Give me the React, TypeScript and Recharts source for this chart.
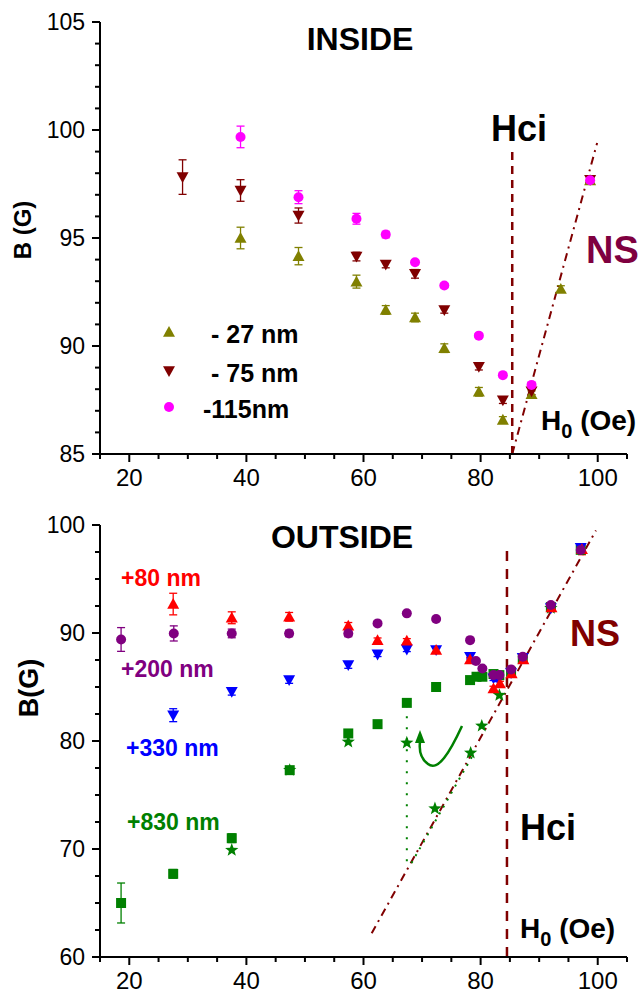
import React from "react";
import { ScatterChart, Scatter, XAxis, YAxis, ErrorBar, ReferenceLine } from "recharts";

const FONT = "Arial, 'Liberation Sans', Helvetica, sans-serif";

// INSIDE: field H0 (Oe) vs induction B (G)
const hIn27 = [39.0, 48.9, 58.8, 63.8, 68.8, 73.8, 79.7, 83.8, 88.7, 93.7, 98.7];
const bIn27 = [95.0, 94.16, 92.98, 91.67, 91.32, 89.9, 87.88, 86.58, 87.77, 92.64, 97.67];
const eIn27 = [0.5, 0.4, 0.3, 0.2, 0.2, 0.2, 0.2, 0.15, 0.15, 0.15, 0.15];

const hIn75 = [29.1, 39.0, 48.9, 58.8, 63.8, 68.8, 73.8, 79.7, 83.8, 88.7, 98.7];
const bIn75 = [97.82, 97.2, 96.04, 94.14, 93.77, 93.34, 91.67, 89.04, 87.49, 87.9, 97.7];
const eIn75 = [0.8, 0.5, 0.35, 0.2, 0.15, 0.2, 0.15, 0.15, 0.15, 0.15, 0.15];

const hIn115 = [39.0, 48.9, 58.8, 63.8, 68.8, 73.8, 79.7, 83.8, 88.7, 98.7];
const bIn115 = [99.68, 96.89, 95.89, 95.16, 93.88, 92.8, 90.48, 88.65, 88.2, 97.67];
const eIn115 = [0.5, 0.3, 0.25, 0.15, 0.1, 0.1, 0.1, 0.1, 0.1, 0.1];

// OUTSIDE
const hOut80 = [27.5, 37.5, 47.3, 57.4, 62.4, 67.4, 72.4, 78.2, 82.2, 83.3, 85.3, 87.3, 92.1, 97.3];
const bOut80 = [92.68, 91.41, 91.5, 90.67, 89.34, 89.28, 88.42, 87.55, 84.87, 85.33, 86.26, 87.55, 92.37, 97.75];
const eOut80 = [1.0, 0.55, 0.4, 0.3, 0.2, 0.2, 0.2, 0.2, 0.2, 0.2, 0.2, 0.2, 0.2, 0.5];

const hOut200 = [18.6, 27.6, 37.5, 47.3, 57.4, 62.4, 67.4, 72.4, 78.2, 79.2, 80.3, 82.2, 83.2, 85.2, 87.2, 92.0, 97.1];
const bOut200 = [89.4, 89.96, 89.96, 89.96, 89.96, 90.89, 91.82, 91.29, 89.34, 87.4, 86.72, 86.1, 86.1, 86.63, 87.8, 92.59, 97.68];
const eOut200 = [1.1, 0.7, 0.4, 0.3, 0.3, 0.15, 0.15, 0.15, 0.15, 0.15, 0.15, 0.15, 0.15, 0.15, 0.15, 0.15, 0.2];

const hOut330 = [27.5, 37.5, 47.3, 57.4, 62.4, 67.4, 72.4, 78.2, 82.2, 83.0, 85.2, 87.2, 92.0, 97.1];
const bOut330 = [82.39, 84.55, 85.64, 87.03, 88.02, 88.48, 88.42, 87.8, 85.8, 85.7, 86.3, 87.7, 92.3, 97.9];
const eOut330 = [0.6, 0.3, 0.3, 0.3, 0.2, 0.2, 0.2, 0.2, 0.2, 0.2, 0.2, 0.2, 0.2, 0.2];

const hOut830 = [18.6, 27.5, 37.5, 47.4, 57.4, 62.4, 67.4, 72.4, 78.2, 79.3, 80.3, 82.2, 83.2, 85.2, 87.2, 92.0, 97.1];
const bOut830 = [65.0, 67.7, 71.0, 77.3, 80.7, 81.56, 83.53, 85.0, 85.64, 85.95, 85.95, 86.2, 86.1, 86.4, 87.6, 92.4, 97.7];
const eOut830 = [1.85, 0.4, 0.4, 0.3, 0.2, 0.15, 0.15, 0.15, 0.15, 0.15, 0.15, 0.15, 0.15, 0.15, 0.15, 0.15, 0.15];

const hOut830s = [37.5, 47.4, 57.4, 67.4, 72.2, 78.3, 80.2, 83.2, 92.0];
const bOut830s = [69.9, 77.3, 79.92, 79.83, 73.74, 78.9, 81.4, 84.24, 92.3];

const xTicks = [15, 20, 25, 30, 35, 40, 45, 50, 55, 60, 65, 70, 75, 80, 85, 90, 95, 100, 105];
const yTicksIn = [85, 86, 87, 88, 89, 90, 91, 92, 93, 94, 95, 96, 97, 98, 99, 100, 101, 102, 103, 104, 105];
const yTicksOut = [60, 62.5, 65, 67.5, 70, 72.5, 75, 77.5, 80, 82.5, 85, 87.5, 90, 92.5, 95, 97.5, 100];

const OLIVE = "#808000";
const DARKRED = "#800000";
const MAGENTA = "#ff00ff";
const RED = "#ff0000";
const PURPLE = "#800080";
const BLUE = "#0000ff";
const GREEN = "#008000";

const pts = (xs: number[], ys: number[], es?: number[]) =>
  xs.map((x, i) => ({ x, y: ys[i], err: es ? es[i] : 0 }));

type Kind = "up" | "down" | "circle" | "square" | "star";

function symbolPath(kind: Kind, cx: number, cy: number, s: number) {
  if (kind === "up") return `M${cx},${cy - s}L${cx + s},${cy + s * 0.8}L${cx - s},${cy + s * 0.8}Z`;
  if (kind === "down") return `M${cx},${cy + s}L${cx + s},${cy - s * 0.8}L${cx - s},${cy - s * 0.8}Z`;
  if (kind === "square") return `M${cx - s},${cy - s}h${2 * s}v${2 * s}h${-2 * s}Z`;
  // five-point star
  let d = "";
  for (let i = 0; i < 10; i++) {
    const r = i % 2 === 0 ? s : s * 0.42;
    const a = -Math.PI / 2 + (i * Math.PI) / 5;
    d += `${i === 0 ? "M" : "L"}${cx + r * Math.cos(a)},${cy + r * Math.sin(a)}`;
  }
  return d + "Z";
}

const marker = (kind: Kind, color: string, s: number) => (p: any) => {
  const { cx, cy } = p;
  if (cx == null || cy == null) return <g />;
  if (kind === "circle") return <circle cx={cx} cy={cy} r={s} fill={color} />;
  return <path d={symbolPath(kind, cx, cy, s)} fill={color} />;
};

function XTick({ x, y, payload }: any) {
  const v = payload.value;
  const major = v % 20 === 0;
  return (
    <g>
      <line x1={x} y1={y} x2={x} y2={y + (major ? 8 : 5)} stroke="#000" strokeWidth={2} />
      {major && (
        <text x={x} y={y + 32} textAnchor="middle" fontSize={24} fontFamily={FONT} fill="#000">
          {v}
        </text>
      )}
    </g>
  );
}

const yTick = (majorStep: number) => ({ x, y, payload }: any) => {
  const v = payload.value;
  const major = v % majorStep === 0;
  return (
    <g>
      <line x1={x - (major ? 8 : 5)} y1={y} x2={x} y2={y} stroke="#000" strokeWidth={2} />
      {major && (
        <text x={x - 15} y={y + 8} textAnchor="end" fontSize={23} fontFamily={FONT} fill="#000">
          {v}
        </text>
      )}
    </g>
  );
};

const axisLine = { stroke: "#000", strokeWidth: 2 };

function InsideChart() {
  return (
    <ScatterChart width={644} height={500} margin={{ top: 22, right: 17, bottom: 0, left: 0 }}>
      <XAxis
        type="number"
        dataKey="x"
        domain={[15, 105]}
        ticks={xTicks}
        interval={0}
        tickSize={0}
        tickMargin={0}
        tickLine={false}
        axisLine={axisLine}
        tick={<XTick />}
        height={46}
        allowDataOverflow
      />
      <YAxis
        type="number"
        dataKey="y"
        domain={[85, 105]}
        ticks={yTicksIn}
        interval={0}
        tickSize={0}
        tickMargin={0}
        tickLine={false}
        axisLine={axisLine}
        tick={yTick(5)}
        width={100}
        allowDataOverflow
      />
      <ReferenceLine
        segment={[{ x: 85.4, y: 85 }, { x: 85.4, y: 99 }]}
        stroke={DARKRED}
        strokeWidth={2.5}
        strokeDasharray="8 6"
        ifOverflow="visible"
      />
      <ReferenceLine
        segment={[{ x: 85.4, y: 85 }, { x: 99.9, y: 99.4 }]}
        stroke={DARKRED}
        strokeWidth={2}
        strokeDasharray="8 5 2 5"
        ifOverflow="visible"
      />
      <Scatter data={pts(hIn27, bIn27, eIn27)} shape={marker("up", OLIVE, 6)} isAnimationActive={false}>
        <ErrorBar dataKey="err" direction="y" width={4} stroke={OLIVE} strokeWidth={1.3} />
      </Scatter>
      <Scatter data={pts(hIn75, bIn75, eIn75)} shape={marker("down", DARKRED, 6)} isAnimationActive={false}>
        <ErrorBar dataKey="err" direction="y" width={4} stroke={DARKRED} strokeWidth={1.3} />
      </Scatter>
      <Scatter data={pts(hIn115, bIn115, eIn115)} shape={marker("circle", MAGENTA, 5)} isAnimationActive={false}>
        <ErrorBar dataKey="err" direction="y" width={4} stroke={MAGENTA} strokeWidth={1.3} />
      </Scatter>
    </ScatterChart>
  );
}

function OutsideChart() {
  return (
    <ScatterChart width={644} height={495} margin={{ top: 25, right: 17, bottom: 0, left: 0 }}>
      <XAxis
        type="number"
        dataKey="x"
        domain={[15, 105]}
        ticks={xTicks}
        interval={0}
        tickSize={0}
        tickMargin={0}
        tickLine={false}
        axisLine={axisLine}
        tick={<XTick />}
        height={38}
        allowDataOverflow
      />
      <YAxis
        type="number"
        dataKey="y"
        domain={[60, 100]}
        ticks={yTicksOut}
        interval={0}
        tickSize={0}
        tickMargin={0}
        tickLine={false}
        axisLine={axisLine}
        tick={yTick(10)}
        width={100}
        allowDataOverflow
      />
      <ReferenceLine
        segment={[{ x: 84.5, y: 60 }, { x: 84.5, y: 98.1 }]}
        stroke={DARKRED}
        strokeWidth={2.5}
        strokeDasharray="10 8"
        ifOverflow="visible"
      />
      <ReferenceLine
        segment={[{ x: 61.4, y: 62.2 }, { x: 99.7, y: 99.5 }]}
        stroke={DARKRED}
        strokeWidth={2}
        strokeDasharray="8 5 2 5"
        ifOverflow="visible"
      />
      <ReferenceLine
        segment={[{ x: 67.4, y: 83.3 }, { x: 67.4, y: 68.7 }]}
        stroke={GREEN}
        strokeWidth={2}
        strokeDasharray="2 9"
        ifOverflow="visible"
      />
      <ReferenceLine
        segment={[{ x: 68.2, y: 68.7 }, { x: 79, y: 79 }]}
        stroke={GREEN}
        strokeWidth={2}
        strokeDasharray="2 6"
        ifOverflow="visible"
      />
      <Scatter data={pts(hOut830, bOut830, eOut830)} shape={marker("square", GREEN, 5)} isAnimationActive={false}>
        <ErrorBar dataKey="err" direction="y" width={4} stroke={GREEN} strokeWidth={1.3} />
      </Scatter>
      <Scatter data={pts(hOut830s, bOut830s)} shape={marker("star", GREEN, 7)} isAnimationActive={false} />
      <Scatter data={pts(hOut330, bOut330, eOut330)} shape={marker("down", BLUE, 6)} isAnimationActive={false}>
        <ErrorBar dataKey="err" direction="y" width={4} stroke={BLUE} strokeWidth={1.3} />
      </Scatter>
      <Scatter data={pts(hOut80, bOut80, eOut80)} shape={marker("up", RED, 6)} isAnimationActive={false}>
        <ErrorBar dataKey="err" direction="y" width={4} stroke={RED} strokeWidth={1.3} />
      </Scatter>
      <Scatter data={pts(hOut200, bOut200, eOut200)} shape={marker("circle", PURPLE, 5)} isAnimationActive={false}>
        <ErrorBar dataKey="err" direction="y" width={4} stroke={PURPLE} strokeWidth={1.3} />
      </Scatter>
    </ScatterChart>
  );
}

const bold = { fontFamily: FONT, fontWeight: 700 } as const;

function Annotations() {
  return (
    <svg width={644} height={995} style={{ position: "absolute", left: 0, top: 0, pointerEvents: "none" }}>
      <text x={31} y={230} transform="rotate(-90 31 230)" textAnchor="middle" fontSize={24} {...bold}>
        B (G)
      </text>
      <text x={38} y={688} transform="rotate(-90 38 688)" textAnchor="middle" fontSize={27} {...bold}>
        B(G)
      </text>

      <text x={360} y={50} textAnchor="middle" fontSize={32} {...bold}>INSIDE</text>
      <text x={491} y={141} fontSize={36} {...bold}>Hci</text>
      <text x={586} y={263} fontSize={38} fill="#7f0040" {...bold}>NS</text>
      <text x={541} y={430} fontSize={28} {...bold}>
        H<tspan dy={8} fontSize={20}>0</tspan>
        <tspan dy={-8}> (Oe)</tspan>
      </text>

      <path d={symbolPath("up", 169, 332, 6)} fill={OLIVE} />
      <path d={symbolPath("down", 169, 371, 6)} fill={DARKRED} />
      <circle cx={169} cy={407} r={5} fill={MAGENTA} />
      <text x={211} y={343} fontSize={25} {...bold}>- 27 nm</text>
      <text x={211} y={382} fontSize={25} {...bold}>- 75 nm</text>
      <text x={203} y={418} fontSize={25} {...bold}>-115nm</text>

      <text x={342} y={548} textAnchor="middle" fontSize={32} {...bold}>OUTSIDE</text>
      <text x={121} y={586} fontSize={23} fill={RED} {...bold}>+80 nm</text>
      <text x={121} y={677} fontSize={23} fill={PURPLE} {...bold}>+200 nm</text>
      <text x={126} y={756} fontSize={23} fill={BLUE} {...bold}>+330 nm</text>
      <text x={127} y={830} fontSize={23} fill={GREEN} {...bold}>+830 nm</text>
      <text x={570} y={646} fontSize={36} fill={DARKRED} {...bold}>NS</text>
      <text x={520} y={840} fontSize={36} {...bold}>Hci</text>
      <text x={520} y={938} fontSize={28} {...bold}>
        H<tspan dy={8} fontSize={20}>0</tspan>
        <tspan dy={-8}> (Oe)</tspan>
      </text>

      <path d="M462,726 C450,752 438,772 428,764 C420,758 419,750 420,742" fill="none" stroke={GREEN} strokeWidth={2.5} />
      <path d="M420,730 L415,743 L425,743 Z" fill={GREEN} />
    </svg>
  );
}

export default function App() {
  return (
    <div style={{ position: "absolute", left: 0, top: 0, width: 644, height: 995, background: "#fff" }}>
      <div style={{ position: "absolute", left: 0, top: 0 }}>
        <InsideChart />
      </div>
      <div style={{ position: "absolute", left: 0, top: 500 }}>
        <OutsideChart />
      </div>
      <Annotations />
    </div>
  );
}
